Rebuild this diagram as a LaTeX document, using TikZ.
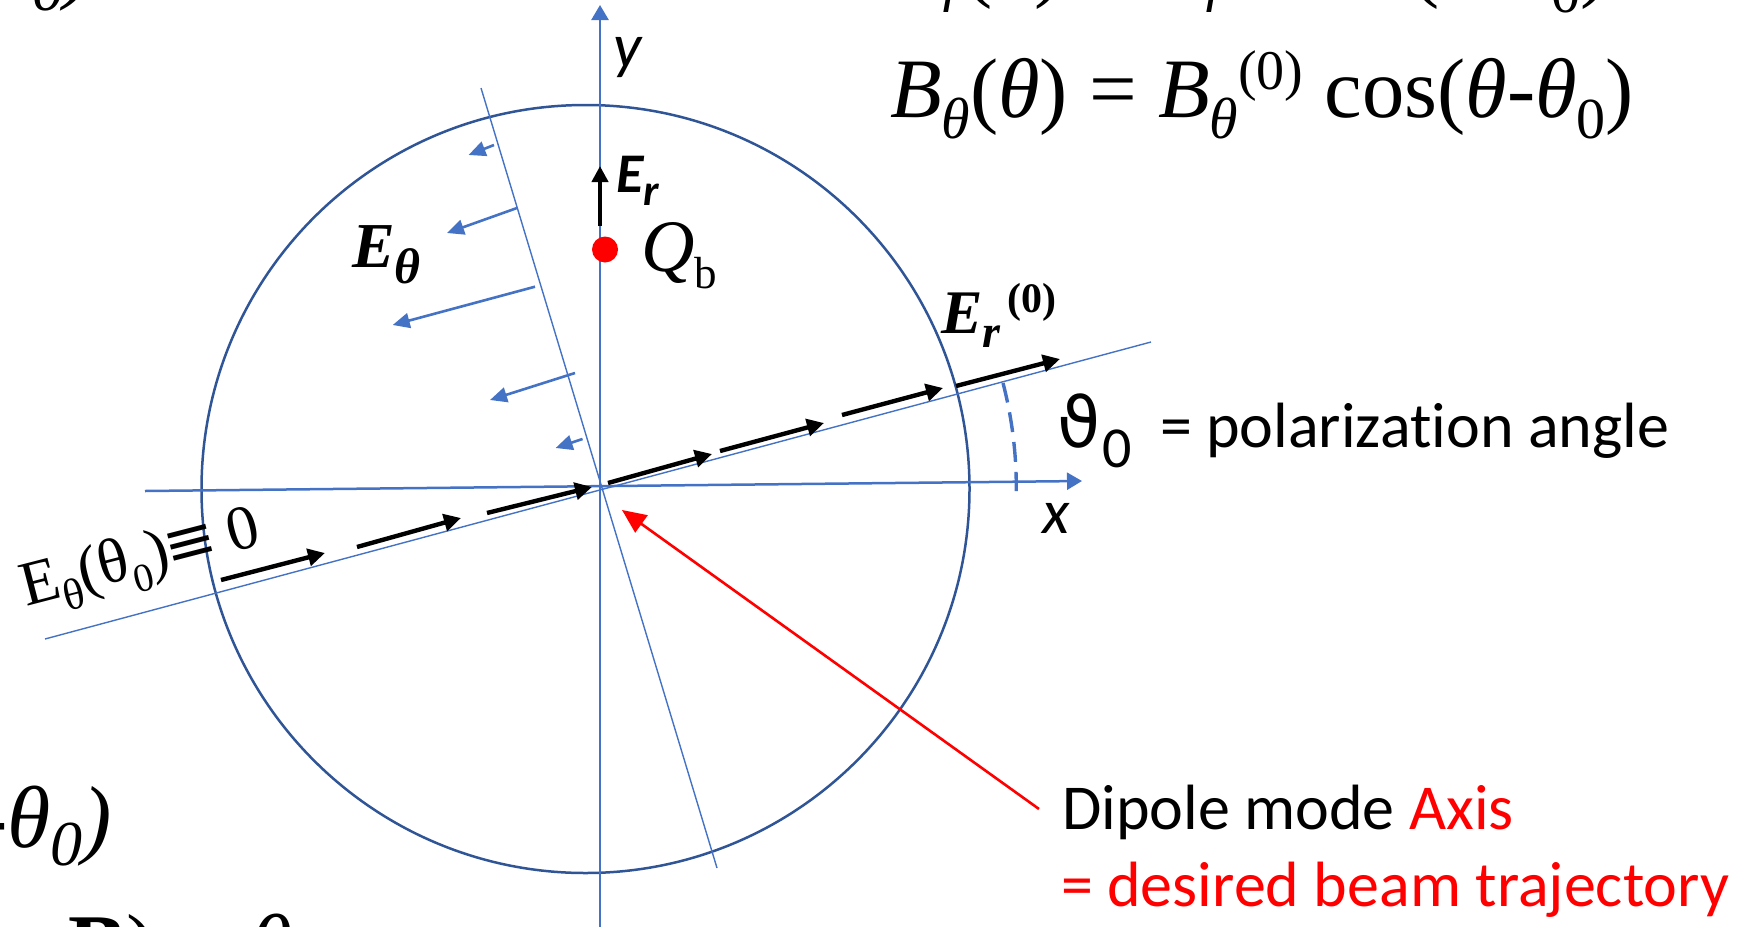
\documentclass[tikz,border=0pt]{standalone}
\usepackage{fontspec}
\setmainfont{Liberation Serif}
\newfontfamily\calibf[Ligatures=NoCommon]{Carlito}
\newfontfamily\dvsans{DejaVu Sans}
\newfontfamily\dvserif{DejaVu Serif}
\usetikzlibrary{arrows.meta}
\definecolor{axisblue}{HTML}{4472C4}
\definecolor{circblue}{HTML}{2F5597}
\definecolor{pptred}{HTML}{FF0000}
\newcommand\fsz[1]{\fontsize{#1}{#1}\selectfont}
\newcommand\mysub[3]{\raisebox{-#1}{\fsz{#2}#3}}
\newcommand\mysup[3]{\raisebox{#1}{\fsz{#2}#3}}
\begin{document}
\begin{tikzpicture}[x=0.5pt,y=-0.5pt,
  lbl/.style={inner sep=0pt, outer sep=0pt, anchor=base west},
  lble/.style={inner sep=0pt, outer sep=0pt, anchor=base east},
  thinaxis/.style={color=axisblue, line width=0.7pt},
  mainaxis/.style={color=axisblue, line width=1.25pt, -{Triangle[length=7.5pt,width=8.5pt]}},
  beamarrow/.style={color=black, line width=2.2pt, -{Triangle[length=8.5pt,width=8.5pt]}},
  efield/.style={color=axisblue, line width=1.3pt, -{Triangle[length=8.5pt,width=7.5pt]}},
  pointer/.style={color=pptred, line width=1.3pt, -{Triangle[length=12pt,width=10.5pt]}},
  anglearc/.style={color=axisblue, line width=1.7pt, dash pattern=on 10pt off 5pt}
]
\useasboundingbox (0,0) rectangle (1759,926);
\clip (0,0) rectangle (1759,926);

% cavity
\node[draw=circblue, line width=1.25pt, circle, inner sep=0pt, minimum size=384pt] (cav) at (585.5,489) {};

% thin guide lines
\coordinate (dl) at (45,639); \coordinate (dr) at (1151,342);
\draw[thinaxis] (dl) -- (dr);
\coordinate (pt) at (481,88); \coordinate (pb) at (717,868);
\draw[thinaxis] (pt) -- (pb);

% axes
\coordinate (O) at (600,486);
\coordinate (xl) at (145,491); \coordinate (xr) at (1082,481);
\draw[mainaxis] (xl) -- (xr);
\coordinate (yb) at (600,930); \coordinate (yt) at (600,5);
\draw[mainaxis] (yb) -- (yt);

% angle arc
\draw[anglearc] (1003,383) arc[start angle=-14.5, end angle=0.5, radius=417];

% beam arrows along dipole axis
\coordinate (b1s) at (221,580); \coordinate (b1e) at (325,553);
\coordinate (b2s) at (357,547); \coordinate (b2e) at (461,518);
\coordinate (b3s) at (487,513); \coordinate (b3e) at (592,487);
\coordinate (b4s) at (608,483); \coordinate (b4e) at (712,454);
\coordinate (b5s) at (720,451); \coordinate (b5e) at (824,423);
\coordinate (b6s) at (842,415); \coordinate (b6e) at (943,388);
\coordinate (b7s) at (956,386); \coordinate (b7e) at (1060,359);
\foreach \i in {1,...,7} { \draw[beamarrow] (b\i s) -- (b\i e); }

% E_theta arrows
\coordinate (e1s) at (494,145);   \coordinate (e1e) at (468.6,155);
\coordinate (e2s) at (517,208);   \coordinate (e2e) at (447,233);
\coordinate (e3s) at (535,286.7); \coordinate (e3e) at (392.7,325);
\coordinate (e4s) at (575,373);   \coordinate (e4e) at (490,400);
\coordinate (e5s) at (582.5,439); \coordinate (e5e) at (555.6,448);
\foreach \i in {1,...,5} { \draw[efield] (e\i s) -- (e\i e); }

% E_r arrow and charge
\coordinate (ers) at (600,226); \coordinate (ert) at (600,166);
\draw[color=black, line width=2pt, -{Triangle[length=8pt,width=8pt]}] (ers) -- (ert);
\node[circle, fill=pptred, inner sep=0pt, minimum size=13pt] (Qdot) at (605,249.5) {};

% red pointer
\coordinate (rs) at (1039,809); \coordinate (rt) at (622,510);
\draw[pointer] (rs) -- (rt);

% labels
\node[lbl, font=\fsz{42.3pt}] (beq) at (890,117) {\textit{B}\mysub{10.8pt}{29pt}{\textit{θ}}(\textit{θ}) = \textit{B}\mysub{10.8pt}{29pt}{\textit{θ}}\mysup{14pt}{28pt}{(0)} cos(\textit{θ}-\textit{θ}\mysub{10.8pt}{29pt}{0})};
\node[lbl, font=\fsz{42.3pt}] (eeq) at (890,-9) {\textit{E}\mysub{10.8pt}{29pt}{\textit{r}}(\textit{θ}) = \textit{E}\mysub{10.8pt}{29pt}{\textit{r}}\mysup{14pt}{28pt}{(0)} sin(\textit{θ}-\textit{θ}\mysub{10.8pt}{29pt}{0})};
\node[lbl, font=\fsz{32pt}\bfseries\itshape] (Eth) at (352,267) {E\mysub{8pt}{25pt}{θ}};
\node[lbl, font=\calibf\fsz{28pt}\bfseries\itshape] (Er) at (616,192) {E\mysub{6.5pt}{22pt}{r}};
\node[lbl, font=\fsz{37pt}] (Qb) at (641,271) {\textit{Q}\mysub{8.5pt}{22.5pt}{b}};
\node[lbl, font=\fsz{31pt}\bfseries] (Er0) at (941,333) {\textit{E}\mysub{7pt}{23pt}{\textit{r}}\mysup{10.5pt}{21pt}{\,(0)}};
\node[lbl, font=\calibf\fsz{31.5pt}\itshape] (ylab) at (613,67) {y};
\node[lbl, font=\calibf\fsz{31.5pt}\itshape] (xlab) at (1042,533) {x};
\node[lbl, font=\dvsans\fsz{35pt}] (th0) at (1057,447) {ϑ};
\node[lbl, font=\calibf\fsz{29pt}] (th0s) at (1102,467) {0};
\node[lbl, font=\calibf\fsz{32pt}] (pol) at (1160,447) {= polarization angle};
\node[lbl, font=\calibf\fsz{32pt}] (dip) at (1062,829) {Dipole mode \textcolor{pptred}{Axis}};
\node[lbl, font=\calibf\fsz{32pt}, text=pptred] (traj) at (1061,906) {= desired beam trajectory};
\node[lbl, font=\fsz{31.5pt}, rotate=14.5] (eth0) at (26,606) {E\mysub{8pt}{22pt}{θ}(θ\mysub{8pt}{20pt}{0})\kern-1.5pt{\dvserif ≡}\kern-2pt{} 0};

% cut-off fragments at the edges
\node[lble, font=\fsz{44pt}\itshape] (frag1) at (112,847) {-θ\mysub{9pt}{32pt}{0})};
\node[lble, font=\fsz{44pt}\itshape] (frag2) at (94,-7) {-θ\mysub{9pt}{32pt}{0})};
\node[lbl, font=\fsz{44pt}] (frag3) at (68,975) {\textbf{B}) = \textit{θ}};
\end{tikzpicture}
\end{document}
